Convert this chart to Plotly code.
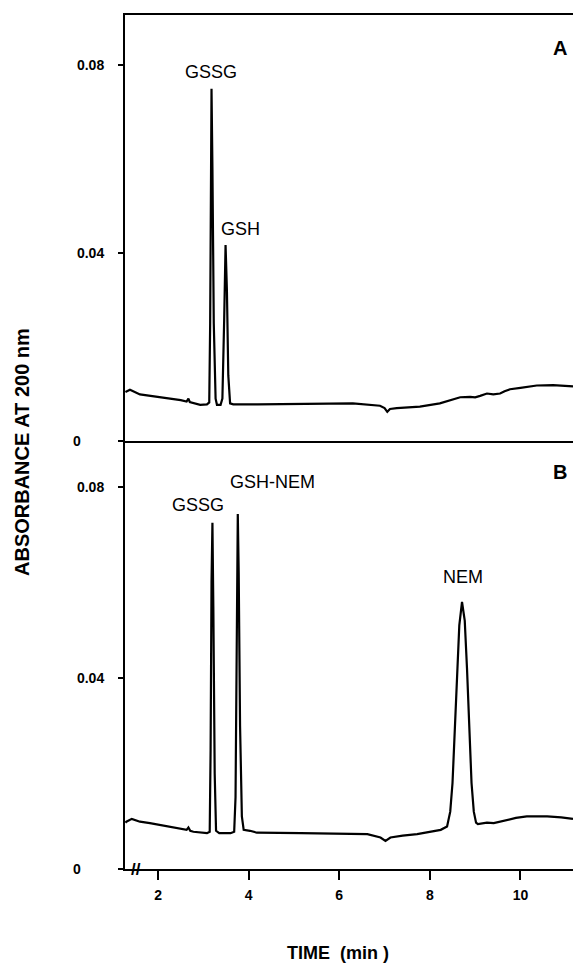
import plotly.graph_objects as go

# ---- data ----
time_A = [1.28, 1.31, 1.38, 1.60, 2.00, 2.26, 2.50, 2.63, 2.67, 2.70, 2.80, 2.93, 3.08,
          3.13, 3.15, 3.17, 3.18, 3.20, 3.23, 3.27, 3.30, 3.38, 3.42, 3.46, 3.49, 3.52,
          3.55, 3.59, 3.66, 4.20, 4.84, 5.50, 6.30, 6.90, 7.00, 7.06, 7.12, 7.27, 7.78,
          8.22, 8.50, 8.67, 8.89, 9.00, 9.11, 9.20, 9.26, 9.40, 9.55, 9.65, 9.77, 10.00,
          10.36, 10.72, 11.00, 11.16]
abs_A = [0.0104, 0.0106, 0.0109, 0.0099, 0.0094, 0.0091, 0.0087, 0.0084, 0.0090, 0.0083,
         0.0080, 0.0077, 0.0078, 0.0082, 0.025, 0.065, 0.0749, 0.058, 0.025, 0.009, 0.0077,
         0.0077, 0.009, 0.026, 0.0417, 0.032, 0.014, 0.0080, 0.0078, 0.0078, 0.0079, 0.0079,
         0.0080, 0.0075, 0.0070, 0.0062, 0.0068, 0.0070, 0.0073, 0.0080, 0.0088, 0.0093,
         0.0094, 0.0093, 0.0096, 0.0100, 0.0101, 0.0099, 0.0101, 0.0106, 0.0110, 0.0113,
         0.0118, 0.0119, 0.0118, 0.0116]

time_B = [1.28, 1.30, 1.42, 1.60, 1.82, 2.20, 2.49, 2.63, 2.67, 2.71, 2.78, 3.08, 3.14,
          3.16, 3.18, 3.20, 3.22, 3.25, 3.28, 3.35, 3.60, 3.68, 3.71, 3.74, 3.76, 3.78,
          3.81, 3.85, 3.89, 4.03, 4.18, 5.15, 6.00, 6.62, 6.91, 7.02, 7.13, 7.40, 7.72,
          8.00, 8.24, 8.38, 8.45, 8.50, 8.55, 8.60, 8.65, 8.71, 8.77, 8.82, 8.87, 8.92,
          8.97, 9.02, 9.06, 9.15, 9.26, 9.41, 9.55, 9.70, 9.90, 10.14, 10.59, 10.90, 11.16]
abs_B = [0.0097, 0.0099, 0.0105, 0.0099, 0.0096, 0.0089, 0.0083, 0.0082, 0.0087, 0.0080,
         0.0078, 0.0075, 0.0078, 0.025, 0.060, 0.0725, 0.055, 0.020, 0.0080, 0.0075,
         0.0075, 0.0078, 0.015, 0.050, 0.0743, 0.062, 0.030, 0.011, 0.0082, 0.0080, 0.0076,
         0.0075, 0.0074, 0.0073, 0.0066, 0.0059, 0.0066, 0.0070, 0.0073, 0.0077, 0.0082,
         0.0089, 0.012, 0.018, 0.028, 0.040, 0.051, 0.0559, 0.052, 0.042, 0.029, 0.018,
         0.012, 0.0097, 0.0094, 0.0095, 0.0097, 0.0096, 0.0099, 0.0103, 0.0107, 0.0110,
         0.0110, 0.0108, 0.0105]

x_ticks = [2, 4, 6, 8, 10]
y_ticks = [0, 0.04, 0.08]
NB = "\u00a0"
y_ticktext = ["0" + NB * 6, "0.04", "0.08"]

labels_A = [("GSSG", 3.17, 0.0785), ("GSH", 3.82, 0.0451)]
labels_B = [("GSSG", 2.89, 0.0762), ("GSH-NEM", 4.53, 0.0810), ("NEM", 8.73, 0.0612)]

FONT = "Liberation Sans, Arial, Helvetica, sans-serif"

fig = go.Figure()
fig.add_trace(go.Scatter(x=time_A, y=abs_A, xaxis="x2", yaxis="y2", mode="lines",
                         line=dict(color="black", width=2.2), showlegend=False, hoverinfo="skip"))
fig.add_trace(go.Scatter(x=time_B, y=abs_B, xaxis="x", yaxis="y", mode="lines",
                         line=dict(color="black", width=2.2), showlegend=False, hoverinfo="skip"))

# plot area targeted at x 125..573, y 15..869 of the page (body margin removed)
split = 428 / 854
xrange = [1.27, 11.16]
tickfont = dict(family=FONT, size=14, color="black", weight=700)

common_y = dict(showline=True, linewidth=2, linecolor="black", ticks="outside", ticklen=5,
                tickwidth=2, tickcolor="black", tickvals=y_ticks, ticktext=y_ticktext,
                tickfont=tickfont, showgrid=False, zeroline=False, ticklabelstandoff=11)

fig.update_layout(
    width=573, height=966,
    margin=dict(l=125, r=0, t=15, b=97),
    paper_bgcolor="white", plot_bgcolor="white",
    xaxis=dict(domain=[0, 1], range=xrange, anchor="y", showline=True, linewidth=2,
               linecolor="black", ticks="outside", ticklen=9, tickwidth=2, tickcolor="black",
               tickvals=x_ticks, ticktext=[str(v) for v in x_ticks], tickfont=tickfont,
               showgrid=False, zeroline=False, ticklabelstandoff=3),
    yaxis=dict(domain=[0, split], range=[0, 0.0896], anchor="x", **common_y),
    xaxis2=dict(domain=[0, 1], range=xrange, anchor="y2", matches="x", showline=True,
                mirror=True, linewidth=2, linecolor="black", ticks="", showticklabels=False,
                showgrid=False, zeroline=False),
    yaxis2=dict(domain=[split, 1], range=[0, 0.0906], anchor="x2", **common_y),
    showlegend=False,
)

ann = []
for text, x, y in labels_A:
    ann.append(dict(text=text, x=x, y=y, xref="x2", yref="y2", showarrow=False,
                    font=dict(family=FONT, size=18, color="black"), xanchor="center", yanchor="middle"))
for text, x, y in labels_B:
    ann.append(dict(text=text, x=x, y=y, xref="x", yref="y", showarrow=False,
                    font=dict(family=FONT, size=18, color="black"), xanchor="center", yanchor="middle"))
ann.append(dict(text="A", x=0.97, y=(869 - 48) / 854, xref="paper", yref="paper", showarrow=False,
                font=dict(family=FONT, size=20, color="black", weight=700), xanchor="center", yanchor="middle"))
ann.append(dict(text="B", x=0.97, y=(869 - 472) / 854, xref="paper", yref="paper", showarrow=False,
                font=dict(family=FONT, size=20, color="black", weight=700), xanchor="center", yanchor="middle"))
ann.append(dict(text="ABSORBANCE AT 200 nm", x=(22 - 125) / 448, y=(869 - 452) / 854,
                xref="paper", yref="paper", showarrow=False, textangle=-90,
                font=dict(family=FONT, size=20, color="black", weight=700),
                xanchor="center", yanchor="middle"))
ann.append(dict(text="TIME\u00a0\u00a0(min\u00a0)", x=(338 - 125) / 448, y=(869 - 953) / 854,
                xref="paper", yref="paper", showarrow=False,
                font=dict(family=FONT, size=18, color="black", weight=700),
                xanchor="center", yanchor="middle"))
# axis break mark
ann.append(dict(text="//", x=1.52, y=0, xref="x", yref="y", showarrow=False,
                font=dict(family=FONT, size=17, color="black", weight=700),
                xanchor="center", yanchor="middle"))
fig.update_layout(annotations=ann)

fig.write_html("out.html", config={"displayModeBar": False},
               post_script="document.body.style.margin='0px';document.body.style.overflow='hidden';")
